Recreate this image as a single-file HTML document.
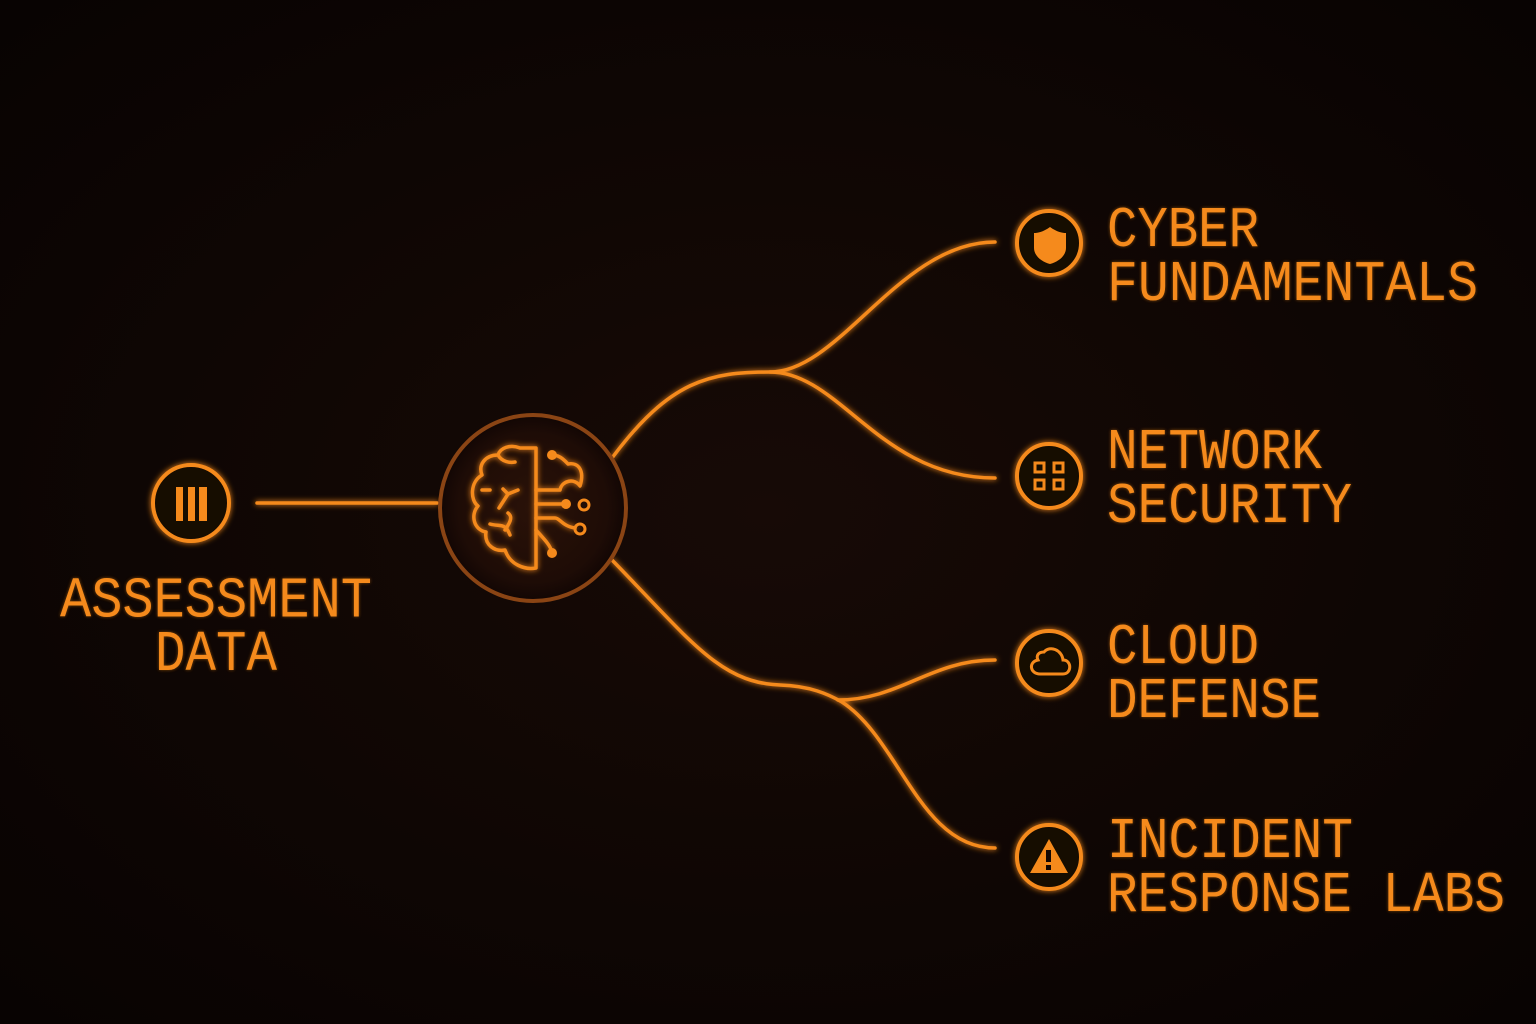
<!DOCTYPE html>
<html><head><meta charset="utf-8"><style>
html,body{margin:0;padding:0;background:#0b0504;}
svg{display:block}
</style></head><body>
<svg width="1536" height="1024" viewBox="0 0 1536 1024" xmlns="http://www.w3.org/2000/svg">
<defs>
<radialGradient id="bg" cx="0.5" cy="0.5" r="0.7">
<stop offset="0" stop-color="#170a06"/><stop offset="1" stop-color="#080302"/>
</radialGradient>
<radialGradient id="cg" cx="0.5" cy="0.5" r="0.5">
<stop offset="0" stop-color="#2a1208"/><stop offset="0.8" stop-color="#1e0c06"/><stop offset="1" stop-color="#120604"/>
</radialGradient>
<filter id="glow" x="-20%" y="-20%" width="140%" height="140%">
<feGaussianBlur stdDeviation="3" result="b"/>
<feMerge><feMergeNode in="b"/><feMergeNode in="SourceGraphic"/></feMerge>
</filter>
<filter id="tglow" x="-5%" y="-20%" width="110%" height="140%">
<feGaussianBlur stdDeviation="1.5" result="b"/>
<feComponentTransfer in="b" result="c"><feFuncA type="linear" slope="0.5"/></feComponentTransfer>
<feMerge><feMergeNode in="c"/><feMergeNode in="SourceGraphic"/></feMerge>
</filter>
</defs>
<rect width="1536" height="1024" fill="url(#bg)"/>
<g fill="none" stroke="#f58a1c" stroke-width="3.5" stroke-linecap="round" filter="url(#glow)">
<line x1="257" y1="503" x2="437" y2="503"/>
<path d="M612 458 C670 380 710 372 770 372 C840 372 900 242 995 242"/>
<path d="M770 372 C840 372 880 478 995 478"/>
<path d="M612 560 C690 640 720 683 780 685 C810 686 828 694 842 702 C900 740 920 848 995 848"/>
<path d="M838 700 C900 700 930 660 995 660"/>
</g>
<circle cx="533" cy="508" r="93" fill="url(#cg)" stroke="#8a4414" stroke-width="4"/>
<g fill="none" stroke="#f58a1c" stroke-width="3.5" stroke-linecap="round" stroke-linejoin="round" filter="url(#glow)">
<path d="M536 448 L520 448 C510 444 500 448 498 455 C485 455 478 465 482 475 C470 482 470 500 478 506 C470 515 474 530 486 532 C484 545 495 552 505 550 C510 565 525 570 536 568 Z"/>
<path d="M498 455 C502 462 510 463 515 462"/>
<path d="M482 490 L490 490"/>
<path d="M490 524 C500 527 505 522 510 535"/>
<path d="M505 530 C512 520 512 516 508 513"/>
<path d="M503 489 L508 494 L518 490 M508 494 L499 508"/>
<path d="M536 490 L560 490 C562 480 575 478 580 486 C585 470 578 462 568 464 C560 455 555 455 552 455"/>
<path d="M536 504 L565 504"/>
<path d="M536 518 L555 518 C560 518 562 526 575 528"/>
<path d="M536 530 C545 540 550 545 552 552"/>
</g>
<g fill="#f58a1c">
<circle cx="552" cy="455" r="5"/><circle cx="566" cy="504" r="5"/><circle cx="552" cy="553" r="5"/>
</g>
<g fill="none" stroke="#f58a1c" stroke-width="3"><circle cx="584" cy="505" r="5"/><circle cx="580" cy="529" r="5"/></g>
<g filter="url(#glow)">
<circle cx="191" cy="503" r="38" fill="#140804" stroke="#f58a1c" stroke-width="4"/>
<rect x="176" y="487" width="7" height="34" fill="#f58a1c"/>
<rect x="188" y="487" width="7" height="34" fill="#f58a1c"/>
<rect x="199" y="487" width="8" height="34" fill="#f58a1c"/>
</g>
<g fill="#140804" stroke="#f58a1c" stroke-width="4" filter="url(#glow)">
<circle cx="1049" cy="243" r="32"/><circle cx="1049" cy="476" r="32"/>
<circle cx="1049" cy="663" r="32"/><circle cx="1049" cy="857" r="32"/>
</g>
<path d="M1050 227 C1043 232 1038 233 1034 233 L1034 248 C1034 256 1042 262 1050 264 C1058 262 1066 256 1066 248 L1066 233 C1062 233 1057 232 1050 227Z" fill="#f58a1c"/>
<g fill="none" stroke="#f58a1c" stroke-width="3">
<rect x="1035" y="463" width="9" height="9"/><rect x="1054" y="463" width="9" height="9"/>
<rect x="1035" y="480" width="9" height="9"/><rect x="1054" y="480" width="9" height="9"/>
<path d="M1040 674 L1063 674 C1072 674 1072 660 1063 660 C1062 650 1050 645 1044 652 C1038 652 1036 656 1038 660 C1028 662 1030 674 1040 674Z"/>
</g>
<path d="M1049 839 L1068 873 L1030 873Z" fill="#f58a1c"/>
<rect x="1046" y="850" width="5" height="12" fill="#140804"/><rect x="1046" y="865" width="5" height="5" fill="#140804"/>
<g fill="#f58a1c" font-family="'Liberation Mono','DejaVu Sans Mono',monospace" font-size="52" filter="url(#tglow)">
<text x="60" y="616" textLength="312" lengthAdjust="spacingAndGlyphs" transform="translate(0,-61) scale(1,1.1)">ASSESSMENT</text>
<text x="155" y="670" textLength="122" lengthAdjust="spacingAndGlyphs" transform="translate(0,-67) scale(1,1.1)">DATA</text>
<text x="1107" y="246" textLength="152" lengthAdjust="spacingAndGlyphs" transform="translate(0,-24.6) scale(1,1.1)">CYBER</text>
<text x="1107" y="300" textLength="371" lengthAdjust="spacingAndGlyphs" transform="translate(0,-30) scale(1,1.1)">FUNDAMENTALS</text>
<text x="1107" y="468" textLength="215" lengthAdjust="spacingAndGlyphs" transform="translate(0,-46.8) scale(1,1.1)">NETWORK</text>
<text x="1107" y="522" textLength="245" lengthAdjust="spacingAndGlyphs" transform="translate(0,-52.2) scale(1,1.1)">SECURITY</text>
<text x="1107" y="663" textLength="152" lengthAdjust="spacingAndGlyphs" transform="translate(0,-66.3) scale(1,1.1)">CLOUD</text>
<text x="1107" y="717" textLength="214" lengthAdjust="spacingAndGlyphs" transform="translate(0,-71.7) scale(1,1.1)">DEFENSE</text>
<text x="1107" y="857" textLength="246" lengthAdjust="spacingAndGlyphs" transform="translate(0,-85.7) scale(1,1.1)">INCIDENT</text>
<text x="1107" y="911" textLength="398" lengthAdjust="spacingAndGlyphs" transform="translate(0,-91.1) scale(1,1.1)">RESPONSE LABS</text>
</g>
</svg>
</body></html>
